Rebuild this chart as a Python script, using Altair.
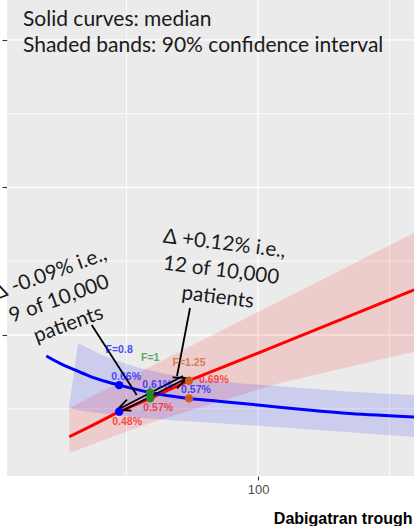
import altair as alt
import pandas as pd

# ---- data: x = dabigatran trough concentration (ng/mL), y = event probability (%) ----
blue_x = [19.5, 24.7, 29.8, 36.1, 42.5, 47.2, 59.0, 66.0, 73.75, 85.0, 100.0, 115.0, 135.0, 159.3]
blue_med = [0.858, 0.808, 0.767, 0.72, 0.683, 0.66, 0.61, 0.588, 0.57, 0.551, 0.525, 0.498, 0.467, 0.444]

blue_band_x = [28.1, 31.6, 40.0, 48.0, 55.0, 65.0, 78.0, 95.0, 112.0, 135.0, 159.3]
blue_lo = [0.505, 0.49, 0.47, 0.452, 0.437, 0.425, 0.41, 0.39, 0.37, 0.34, 0.308]
blue_hi = [0.505, 0.946, 0.87, 0.815, 0.776, 0.735, 0.70, 0.67, 0.647, 0.615, 0.593]

red_x = [28.25, 37.4, 47.2, 59.0, 73.75, 100.0, 130.0, 159.3]
red_med = [0.31, 0.39, 0.48, 0.57, 0.69, 0.877, 1.094, 1.306]

red_band_x = [28.25, 45.0, 58.9, 80.0, 108.4, 130.0, 159.3]
red_lo = [0.2, 0.311, 0.403, 0.519, 0.675, 0.764, 0.885]
red_hi = [0.505, 0.658, 0.784, 0.975, 1.232, 1.427, 1.692]

# dose multipliers around the median exposure
f_names = ["F=0.8", "F=1", "F=1.25"]
f_x = [47.2, 59.0, 73.75]
f_blue = [0.66, 0.61, 0.57]
f_red = [0.48, 0.57, 0.69]
f_colors = ["#0000FF", "#228B22", "#D05A1C"]

# annotation anchors (data units, first line of each block)
ann_text = ["Δ -0.09% i.e.,\n9 of 10,000\npatients", "Δ +0.12% i.e.,\n12 of 10,000\npatients"]
ann_x = [20.9, 87.2]
ann_y = [1.414, 1.617]

# leader lines and arrows (x, y, x2, y2)
seg_x = [36.77, 74.14, 71.48, 49.05]
seg_y = [1.068, 1.183, 0.722, 0.4915]
seg_x2 = [53.88, 69.2, 46.39, 73.0]
seg_y2 = [0.593, 0.722, 0.4915, 0.7085]
head_x = [46.39, 73.0]
head_y = [0.4915, 0.7085]
head_ang = [158, 338]

x_grid_major = [100]
x_grid_minor = [50, 150]
y_grid_major = [1, 2, 3]
y_grid_minor = [0.5, 1.5, 2.5]

# ---- frames ----
blue_df = pd.DataFrame({"x": blue_x, "y": blue_med})
red_df = pd.DataFrame({"x": red_x, "y": red_med})
blue_band = pd.DataFrame({"x": blue_band_x, "lo": blue_lo, "hi": blue_hi})
red_band = pd.DataFrame({"x": red_band_x, "lo": red_lo, "hi": red_hi})
pts = pd.DataFrame({"F": f_names, "x": f_x, "yb": f_blue, "yr": f_red})
pts["lb"] = [f"{v:.2f}%" for v in f_blue]
pts["lr"] = [f"{v:.2f}%" for v in f_red]
ann = pd.DataFrame({"t": ann_text, "x": ann_x, "y": ann_y})
segs = pd.DataFrame({"x": seg_x, "y": seg_y, "x2": seg_x2, "y2": seg_y2})
heads = pd.DataFrame({"x": head_x, "y": head_y, "ang": head_ang})

xs = alt.Scale(domain=[4.56, 159.3], nice=False, zero=False)
ys = alt.Scale(domain=[0.044, 3.271], nice=False, zero=False)
fscale = alt.Scale(domain=f_names, range=f_colors)

x_axis = alt.Axis(values=[100], grid=False, domain=False, tickColor="#333333", tickSize=4,
                  tickWidth=1.1, labelColor="#4D4D4D", labelFont="Liberation Sans",
                  labelFontSize=13, labelPadding=3, title="Dabigatran trough",
                  titleFont="Liberation Sans", titleFontSize=16, titleFontWeight="bold",
                  titleColor="black", titleX=405, titleY=47, titleAlign="right",
                  titleBaseline="alphabetic")
y_axis = alt.Axis(values=[1, 2, 3], grid=False, domain=False, labels=False, tickColor="#333333",
                  tickSize=5, tickWidth=1.1, title=None)


def X(f="x"):
    return alt.X(f"{f}:Q", scale=xs, axis=x_axis)


def Y(f="y"):
    return alt.Y(f"{f}:Q", scale=ys, axis=y_axis)


grid = alt.layer(
    alt.Chart(pd.DataFrame({"x": x_grid_minor})).mark_rule(color="white", strokeWidth=0.8).encode(x=X()),
    alt.Chart(pd.DataFrame({"x": x_grid_major})).mark_rule(color="white", strokeWidth=1.3).encode(x=X()),
    alt.Chart(pd.DataFrame({"y": y_grid_minor})).mark_rule(color="white", strokeWidth=0.8).encode(y=Y()),
    alt.Chart(pd.DataFrame({"y": y_grid_major})).mark_rule(color="white", strokeWidth=1.3).encode(y=Y()),
)

bands = alt.layer(
    alt.Chart(red_band).mark_area(color="#FF0000", opacity=0.13, clip=True).encode(
        x=X(), y=Y("lo"), y2="hi"),
    alt.Chart(blue_band).mark_area(color="#0000FF", opacity=0.13, clip=True).encode(
        x=X(), y=Y("lo"), y2="hi"),
)

curves = alt.layer(
    alt.Chart(red_df).mark_line(color="#FF0000", strokeWidth=3, clip=True).encode(x=X(), y=Y()),
    alt.Chart(blue_df).mark_line(color="#0000FF", strokeWidth=3, interpolate="monotone",
                                 clip=True).encode(x=X(), y=Y()),
)

arrows = alt.layer(
    alt.Chart(segs).mark_rule(color="black", strokeWidth=1.8).encode(
        x=X(), y=Y(), x2="x2", y2="y2"),
    alt.Chart(heads).mark_point(shape="M-1,-0.45L0,0L-1,0.45", filled=False, color="black",
                                strokeWidth=1.8, size=700, opacity=1).encode(
        x=X(), y=Y(), angle=alt.Angle("ang:Q", scale=None)),
)

label_font = dict(font="Liberation Sans", fontSize=10.5, fontWeight="bold")
points = alt.layer(
    alt.Chart(pts).mark_circle(size=70, opacity=1).encode(
        x=X(), y=Y("yb"), color=alt.Color("F:N", scale=fscale, legend=None)),
    alt.Chart(pts).mark_circle(size=70, opacity=1).encode(
        x=X(), y=Y("yr"), color=alt.Color("F:N", scale=fscale, legend=None)),
    alt.Chart(pts).mark_text(color="#0000FF", opacity=0.65, dx=7, dy=-8, **label_font).encode(
        x=X(), y=Y("yb"), text="lb:N"),
    alt.Chart(pts).transform_filter(alt.datum.F != "F=1.25").mark_text(
        color="#FF0000", opacity=0.65, dx=8, dy=10, **label_font).encode(
        x=X(), y=Y("yr"), text="lr:N"),
    alt.Chart(pts).transform_filter(alt.datum.F == "F=1.25").mark_text(
        color="#FF0000", opacity=0.65, align="left", dx=10, dy=-1, **label_font).encode(
        x=X(), y=Y("yr"), text="lr:N"),
    alt.Chart(pts).mark_text(opacity=0.7, dy=-35, **label_font).encode(
        x=X(), y=Y("yb"), text="F:N", color=alt.Color("F:N", scale=fscale, legend=None)),
)

ann_font = dict(font="Lato", fontSize=20.5, color="#1a1a1a", lineBreak="\n", lineHeight=27,
                align="center", baseline="middle")
notes = alt.layer(
    alt.Chart(ann.iloc[[0]]).mark_text(angle=340, **ann_font).encode(x=X(), y=Y(), text="t:N"),
    alt.Chart(ann.iloc[[1]]).mark_text(angle=7, **ann_font).encode(x=X(), y=Y(), text="t:N"),
    alt.Chart(pd.DataFrame({"t": ["Solid curves: median\nShaded bands: 90% confidence interval"]}))
    .mark_text(font="Lato", fontSize=21, color="#1a1a1a", lineBreak="\n", lineHeight=26,
               align="left", baseline="alphabetic")
    .encode(x=alt.value(16), y=alt.value(26), text="t:N"),
)

chart = (
    alt.layer(grid, bands, curves, arrows, points, notes)
    .properties(width=407, height=476, background="white",
                padding={"left": 7, "top": 0, "right": 0, "bottom": 50},
                autosize=alt.AutoSizeParams(type="none"))
    .configure_view(fill="#EBEBEB", stroke=None)
)

chart.save("out.html", embed_options={"renderer": "svg", "actions": False})
